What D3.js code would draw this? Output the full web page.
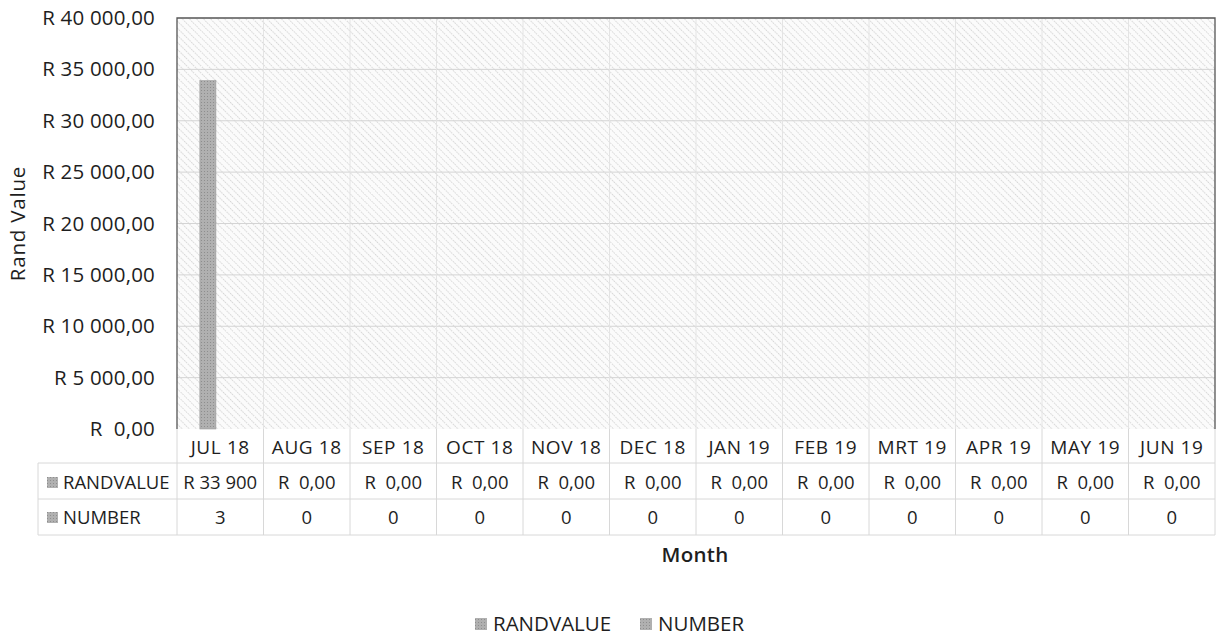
<!DOCTYPE html>
<html>
<head>
<meta charset="utf-8">
<script src="https://cdn.jsdelivr.net/npm/d3@7/dist/d3.min.js"></script>
<style>
  body { margin: 0; background: #fff; }
  text { font-family: "Open Sans", Lato, sans-serif; fill: #1e1e1e; }
</style>
</head>
<body>
<script>
var months = ['JUL 18', 'AUG 18', 'SEP 18', 'OCT 18', 'NOV 18', 'DEC 18', 'JAN 19', 'FEB 19', 'MRT 19', 'APR 19', 'MAY 19', 'JUN 19'];
var series = ['RANDVALUE', 'NUMBER'];
var randValue = [33900, 0, 0, 0, 0, 0, 0, 0, 0, 0, 0, 0];
var number = [3, 0, 0, 0, 0, 0, 0, 0, 0, 0, 0, 0];
var randLabels = ['R 33 900', 'R  0,00', 'R  0,00', 'R  0,00', 'R  0,00', 'R  0,00', 'R  0,00', 'R  0,00', 'R  0,00', 'R  0,00', 'R  0,00', 'R  0,00'];
var yTicks = [0, 5000, 10000, 15000, 20000, 25000, 30000, 35000, 40000];

var w = 1219, h = 637;
var plotL = 177, plotR = 1215, plotT = 18, plotB = 429;
var tableLeft = 38;
var rowY = [429, 463, 499, 535];

var svg = d3.select('body').append('svg')
  .attr('width', w).attr('height', h);

// light diagonal hatch for the plot area
var defs = svg.append('defs');
var pat = defs.append('pattern')
  .attr('id', 'hatch').attr('patternUnits', 'userSpaceOnUse')
  .attr('width', 5).attr('height', 5)
  .attr('patternTransform', 'rotate(-45)');
pat.append('rect').attr('width', 5).attr('height', 5).attr('fill', '#fbfbfb');
pat.append('line').attr('x1', 0.5).attr('y1', 0).attr('x2', 0.5).attr('y2', 5)
  .attr('stroke', '#d6d6d6').attr('stroke-width', 1).attr('stroke-dasharray', '1.5,1');

var barPat = defs.append('pattern')
  .attr('id', 'barhatch').attr('patternUnits', 'userSpaceOnUse')
  .attr('width', 3).attr('height', 3);
barPat.append('rect').attr('width', 3).attr('height', 3).attr('fill', '#b0b0b0');
barPat.append('rect').attr('width', 1).attr('height', 1).attr('fill', '#8e8e8e');

var x0 = d3.scaleBand().domain(months).range([plotL, plotR]);
var x1 = d3.scaleBand().domain(series).range([0, x0.bandwidth()])
  .paddingInner(0).paddingOuter(1.7).align(0.42);
var y = d3.scaleLinear().domain([0, 40000]).range([plotB, plotT]);

svg.append('rect')
  .attr('x', plotL).attr('y', plotT)
  .attr('width', plotR - plotL).attr('height', plotB - plotT)
  .attr('fill', 'url(#hatch)');

// grid
svg.append('g').selectAll('line').data(yTicks.slice(1, -1)).enter().append('line')
  .attr('x1', plotL).attr('x2', plotR)
  .attr('y1', d => y(d)).attr('y2', d => y(d))
  .attr('stroke', '#d4d4d4').attr('stroke-width', 1);
svg.append('g').selectAll('line').data(months.slice(1)).enter().append('line')
  .attr('x1', d => x0(d)).attr('x2', d => x0(d))
  .attr('y1', plotT).attr('y2', plotB)
  .attr('stroke', '#e4e4e4').attr('stroke-width', 1);

// bars
var data = [];
months.forEach(function(m, i) {
  data.push({ m: m, s: 'RANDVALUE', v: randValue[i] });
  data.push({ m: m, s: 'NUMBER', v: number[i] });
});
svg.append('g').selectAll('rect').data(data).enter().append('rect')
  .attr('x', d => x0(d.m) + x1(d.s))
  .attr('y', d => y(d.v))
  .attr('width', x1.bandwidth())
  .attr('height', d => plotB - y(d.v))
  .attr('fill', d => d.s === 'RANDVALUE' ? 'url(#barhatch)' : '#b5b5b5')
  .attr('stroke', d => d.s === 'RANDVALUE' && d.v > 0 ? '#999' : 'none')
  .attr('stroke-width', 0.6);

// plot border
svg.append('path')
  .attr('d', 'M' + plotL + ',' + plotB + 'V' + plotT + 'H' + plotR + 'V' + plotB)
  .attr('fill', 'none').attr('stroke', '#555').attr('stroke-width', 1.3);

// y axis labels
var yAxis = d3.axisLeft(y).tickValues(yTicks).tickSize(0).tickPadding(22)
  .tickFormat(function(d) {
    if (d === 0) return 'R\u00a0 0,00';
    return 'R ' + d3.format(',')(d).replace(/,/g, ' ') + ',00';
  });
var ya = svg.append('g').attr('transform', 'translate(' + plotL + ',0)').call(yAxis);
ya.select('.domain').remove();
ya.selectAll('text').attr('font-size', 20.5).attr('letter-spacing', 0.2)
  .style('font-family', '"Open Sans", sans-serif').attr('fill', '#1e1e1e');

svg.append('text')
  .attr('transform', 'translate(25,' + ((plotT + plotB) / 2) + ') rotate(-90)')
  .attr('text-anchor', 'middle').attr('font-size', 20.5).attr('font-weight', 500)
  .attr('letter-spacing', 0.8).text('Rand Value');

// data table
var grid = '#d8d8d8';
svg.append('g').selectAll('line').data(rowY.slice(1)).enter().append('line')
  .attr('x1', tableLeft).attr('x2', plotR)
  .attr('y1', d => d).attr('y2', d => d)
  .attr('stroke', grid);
svg.append('line').attr('x1', tableLeft).attr('x2', tableLeft)
  .attr('y1', rowY[1]).attr('y2', rowY[3]).attr('stroke', grid);
svg.append('g').selectAll('line').data(months).enter().append('line')
  .attr('x1', d => x0(d)).attr('x2', d => x0(d))
  .attr('y1', rowY[0]).attr('y2', rowY[3]).attr('stroke', grid);
svg.append('line').attr('x1', plotR).attr('x2', plotR)
  .attr('y1', rowY[0]).attr('y2', rowY[3]).attr('stroke', grid);

var cx = d => x0(d) + x0.bandwidth() / 2;
svg.append('g').selectAll('text').data(months).enter().append('text')
  .attr('x', cx).attr('y', 454).attr('text-anchor', 'middle')
  .attr('font-size', 19).attr('letter-spacing', 0.6).text(d => d);
svg.append('g').selectAll('text').data(months).enter().append('text')
  .attr('x', cx).attr('y', 489).attr('text-anchor', 'middle')
  .attr('font-size', 18.5).style('white-space', 'pre').text((d, i) => randLabels[i]);
svg.append('g').selectAll('text').data(months).enter().append('text')
  .attr('x', cx).attr('y', 524).attr('text-anchor', 'middle')
  .attr('font-size', 18.5).text((d, i) => number[i]);

var rowLabels = svg.append('g').selectAll('g').data(series).enter().append('g')
  .attr('transform', (d, i) => 'translate(47,' + (489 + i * 35) + ')');
rowLabels.append('rect').attr('x', 0).attr('y', -12).attr('width', 11).attr('height', 11)
  .attr('fill', 'url(#barhatch)');
rowLabels.append('text').attr('x', 16).attr('font-size', 18.5).text(d => d);

svg.append('text')
  .attr('x', 695).attr('y', 562).attr('text-anchor', 'middle')
  .attr('font-size', 20.5).attr('font-weight', 600).attr('letter-spacing', 0.3).text('Month');

// legend
var legX = [475, 640];
var leg = svg.append('g').selectAll('g').data(series).enter().append('g')
  .attr('transform', (d, i) => 'translate(' + legX[i] + ',631)');
leg.append('rect').attr('x', 0).attr('y', -13).attr('width', 12).attr('height', 12)
  .attr('fill', 'url(#barhatch)');
leg.append('text').attr('x', 18).attr('font-size', 20.5).text(d => d);
</script>
</body>
</html>
